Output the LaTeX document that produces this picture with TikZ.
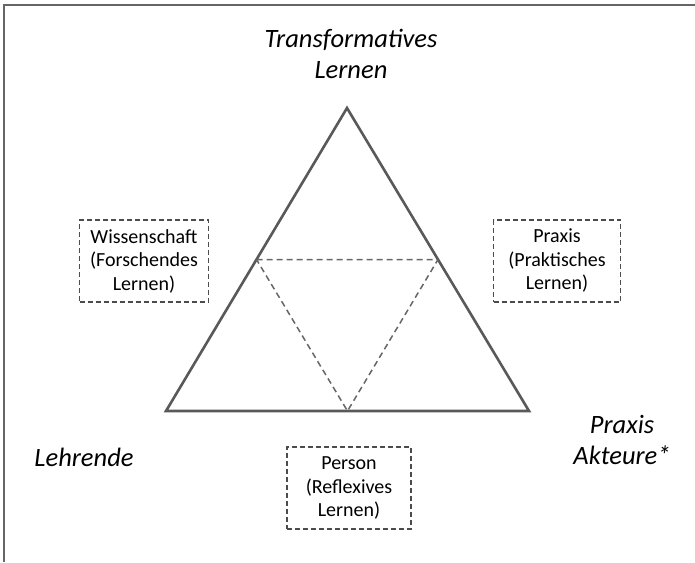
\documentclass[tikz,border=0pt]{standalone}
\usepackage{fontspec}
\setmainfont{Carlito}
\usetikzlibrary{positioning}
\usetikzlibrary{calc}

\begin{document}
\begin{tikzpicture}
	[x=1pt,y=-1pt,
	edgestyle/.style={draw=black!65,line width=2.6pt,line join=miter},
	innerstyle/.style={draw=black!60,line width=1.5pt,dash pattern=on 6pt off 4pt},
	boxstyle/.style={rectangle,draw=black!70,line width=1.8pt,dash pattern=on 5pt off 3pt,align=center,inner sep=0pt,font=\fontsize{20}{23.5}\selectfont},
	labelstyle/.style={align=center,inner sep=0pt,font=\fontsize{26.5}{31}\selectfont\itshape}
	]
	
	%Set params
	\def\boxwd{129pt}
	\def\boxht{82pt}
	
	\useasboundingbox (0,0) rectangle (695,562);
	\draw[draw=black!60,line width=2pt] (4,562) -- (4,5) -- (695,5);
	
	%Corners
	\coordinate (Top) at (347,108);
	\coordinate (Left) at (166,411);
	\coordinate (Right) at (529,411);
	\coordinate (MidL) at ($(Top)!0.5!(Left)$);
	\coordinate (MidR) at ($(Top)!0.5!(Right)$);
	\coordinate (MidB) at ($(Left)!0.5!(Right)$);
	
	\draw[edgestyle] (Top) -- (Left) -- (Right) -- cycle;
	\draw[innerstyle] (MidL) -- (MidR) -- (MidB) -- cycle;
	
	%Corner labels
	\node(Transf)[labelstyle] at (351,54) {Transformatives\\Lernen};
	\node(Lehrende)[labelstyle] at (84,457) {Lehrende};
	\node(Akteure)[labelstyle] at (622,440) {Praxis\\Akteure*};
	
	%Side boxes
	\node(Wiss)[boxstyle,minimum width=\boxwd,minimum height=\boxht] at (144,261) {Wissenschaft\\(Forschendes\\Lernen)};
	\node(Praxis)[boxstyle,minimum width=127pt,minimum height=\boxht] at (557,261) {Praxis\\(Praktisches\\Lernen)};
	\node(Person)[boxstyle,minimum width=124pt,minimum height=\boxht] at (349,488) {Person\\(Reflexives\\Lernen)};
	
\end{tikzpicture}
\end{document}
